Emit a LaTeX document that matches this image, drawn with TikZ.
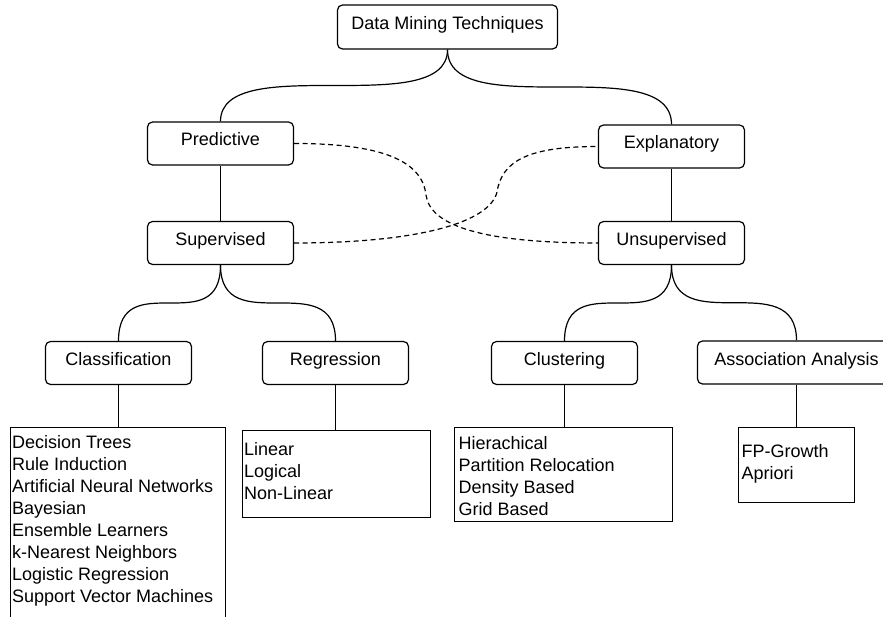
\documentclass[tikz,border=0pt]{standalone}
\usepackage{fontspec}
\setmainfont{Liberation Sans}
\newcommand\dmfont{\fontsize{18}{22}\selectfont}
\begin{document}
\begin{tikzpicture}[x=1pt,y=-1pt, line width=1.2pt,
  catbox/.style={draw, rounded corners=5pt, minimum width=146pt, minimum height=43pt,
    inner sep=0pt, text height=13pt, text depth=8pt, font=\dmfont},
  listbox/.style={draw, rectangle, anchor=north west, inner sep=0pt},
  listtext/.style={anchor=north west, inner sep=0pt, align=left, font=\dmfont},
  tree/.style={draw},
  link/.style={draw, dash pattern=on 5pt off 3.5pt}
]
\clip (0,0) rectangle (883,617);

% category nodes
\node[catbox, minimum width=220pt, minimum height=44pt] (dmt) at (447.5,27) {Data Mining Techniques};
\node[catbox] (pred)  at (220.5,143.5) {Predictive};
\node[catbox] (expl)  at (671.5,146.5) {Explanatory};
\node[catbox] (sup)   at (220.5,243) {Supervised};
\node[catbox] (unsup) at (671.5,243) {Unsupervised};
\node[catbox] (cls)   at (118.5,363) {Classification};
\node[catbox] (reg)   at (335.5,363) {Regression};
\node[catbox] (clu)   at (564.5,363) {Clustering};
\node[catbox, minimum width=198pt] (assoc) at (796.5,362.5) {Association Analysis};

% method lists
\node[listbox, minimum width=215pt, minimum height=200pt] (clsbox) at (9.5,427) {};
\node[listtext] (clstext) at ([shift={(2,8)}]clsbox.north west)
  {Decision Trees\\Rule Induction\\Artificial Neural Networks\\Bayesian\\Ensemble Learners\\k-Nearest Neighbors\\Logistic Regression\\Support Vector Machines};

\node[listbox, minimum width=188pt, minimum height=87pt] (regbox) at (242,430) {};
\node[listtext] (regtext) at ([shift={(1.5,12)}]regbox.north west)
  {Linear\\Logical\\Non-Linear};

\node[listbox, minimum width=218pt, minimum height=94pt] (clubox) at (453.5,427) {};
\node[listtext] (clutext) at ([shift={(4.5,9)}]clubox.north west)
  {Hierachical\\Partition Relocation\\Density Based\\Grid Based};

\node[listbox, minimum width=116pt, minimum height=75pt] (asbox) at (738,427) {};
\node[listtext] (astext) at ([shift={(3,16.5)}]asbox.north west)
  {FP-Growth\\Apriori};

% hierarchy connectors
\foreach \p/\c in {dmt/pred, dmt/expl, sup/cls, sup/reg, unsup/clu, unsup/assoc}
  \draw[tree] (\p.south) .. controls (\p.south |- \c.north) and (\c.north |- \p.south) .. (\c.north);
\draw[tree] (pred) -- (sup);
\draw[tree] (expl) -- (unsup);
\draw[tree] (cls.south) -- (cls.south |- clsbox.north);
\draw[tree] (reg.south) -- (reg.south |- regbox.north);
\draw[tree] (clu.south) -- (clu.south |- clubox.north);
\draw[tree] (assoc.south) -- (assoc.south |- asbox.north);

% cross links
\coordinate (bendA) at (426,195);
\coordinate (bendB) at (497,192);
\draw[link] (pred.east) .. controls (380,143.5) and (422,160) .. (bendA)
  .. controls (430,225) and (480,243) .. (unsup.west);
\draw[link] (sup.east) .. controls (420,243) and (490,222) .. (bendB)
  .. controls (502,160) and (530,146.5) .. (expl.west);
\end{tikzpicture}
\end{document}
